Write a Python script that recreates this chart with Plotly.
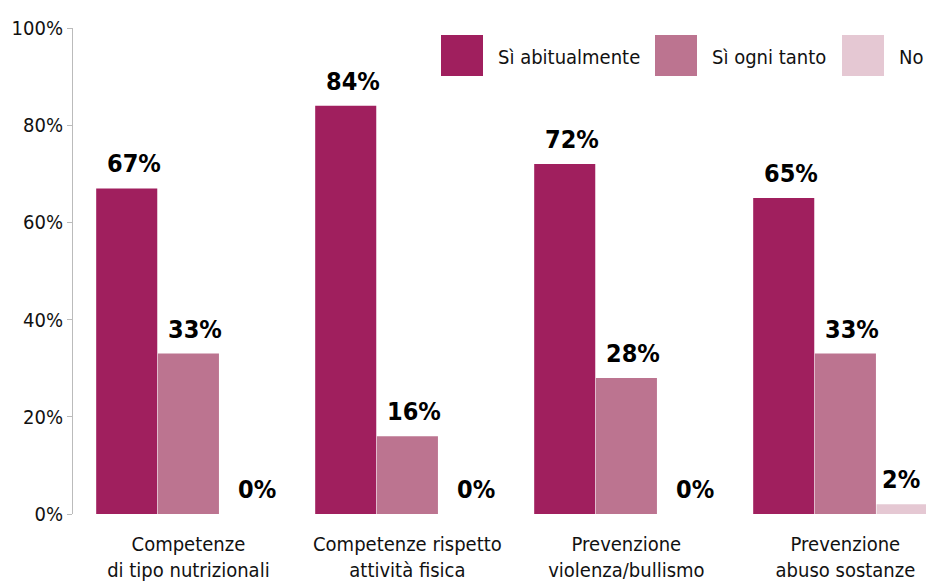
import plotly.graph_objects as go

categories = [
    "Competenze<br>di tipo nutrizionali",
    "Competenze rispetto<br>attività fisica",
    "Prevenzione<br>violenza/bullismo",
    "Prevenzione<br>abuso sostanze",
]
series_names = ["Sì abitualmente", "Sì ogni tanto", "No"]
si_abitualmente = [67, 84, 72, 65]
si_ogni_tanto = [33, 16, 28, 33]
no = [0, 0, 0, 2]
series_values = [si_abitualmente, si_ogni_tanto, no]
colors = ["#A01F5E", "#BC7490", "#E5C8D3"]
y_ticks = [0, 20, 40, 60, 80, 100]

FONT = "Liberation Sans Narrow, DejaVu Sans Condensed, Roboto Condensed, Arial Narrow, sans-serif"

W, H = 926, 581
ML, MR, MT, MB = 73, 0, 28, 67
BARGAP = 0.155
GROUPGAP = 0.01
X_RANGE = [-0.527, 3.368]

fig = go.Figure()
n_series = len(series_names)
bar_w = (1 - BARGAP) / n_series
half_drawn = bar_w * (1 - GROUPGAP) / 2
for i, (name, vals, col) in enumerate(zip(series_names, series_values, colors)):
    xs = list(range(len(categories)))
    fig.add_trace(go.Bar(
        name=name,
        x=xs,
        y=vals,
        marker=dict(color=col, line=dict(width=0)),
        showlegend=False,
    ))
    # value labels above each bar; a bar cut by the right edge gets its
    # label centred on the part that is visible
    offset = (i - (n_series - 1) / 2) * bar_w
    for x, v in zip(xs, vals):
        cx = x + offset
        shift = 7
        if cx + half_drawn > X_RANGE[1]:
            cx = (cx - half_drawn + X_RANGE[1]) / 2
            shift = 0
        fig.add_annotation(
            x=cx, y=v, xref="x", yref="y",
            text=f"{v}%", showarrow=False,
            xanchor="center", yanchor="bottom", yshift=8, xshift=shift,
            font=dict(family=FONT, size=25, color="#000000", weight="bold"),
        )

# legend drawn as large colour squares with labels
plot_w = W - ML - MR
plot_h = H - MT - MB
def px_x(p):
    return (p - ML) / plot_w
def px_y(p):
    return (H - MB - p) / plot_h

legend_x = [441, 655, 842]
for lx, name, col in zip(legend_x, series_names, colors):
    fig.add_shape(type="rect", xref="paper", yref="paper",
                  x0=px_x(lx), x1=px_x(lx + 42), y0=px_y(76), y1=px_y(35),
                  fillcolor=col, line=dict(width=0))
    fig.add_annotation(xref="paper", yref="paper", x=px_x(lx + 55), y=px_y(57),
                       text=name, showarrow=False, xanchor="left", yanchor="middle",
                       font=dict(family=FONT, size=20, color="#111111"))

fig.update_layout(
    width=W, height=H,
    margin=dict(l=ML, r=MR, t=MT, b=MB, pad=0),
    barmode="group",
    bargap=BARGAP,
    bargroupgap=GROUPGAP,
    plot_bgcolor="white",
    paper_bgcolor="white",
    font=dict(family=FONT, size=20, color="#111111"),
)
fig.update_xaxes(
    tickvals=list(range(len(categories))),
    ticktext=categories,
    range=X_RANGE,
    showline=False, showgrid=False, ticks="", zeroline=False,
    ticklabelstandoff=16,
    tickfont=dict(family=FONT, size=20, color="#111111"),
)
fig.update_yaxes(
    range=[0, 100],
    tickvals=y_ticks,
    ticktext=[f"{t}%" for t in y_ticks],
    showline=True, linecolor="#BBBBBB", linewidth=1,
    ticks="outside", ticklen=5, tickcolor="#BBBBBB",
    showgrid=False, zeroline=False,
    tickfont=dict(family=FONT, size=20, color="#111111"),
)

fig.write_html("out.html")
